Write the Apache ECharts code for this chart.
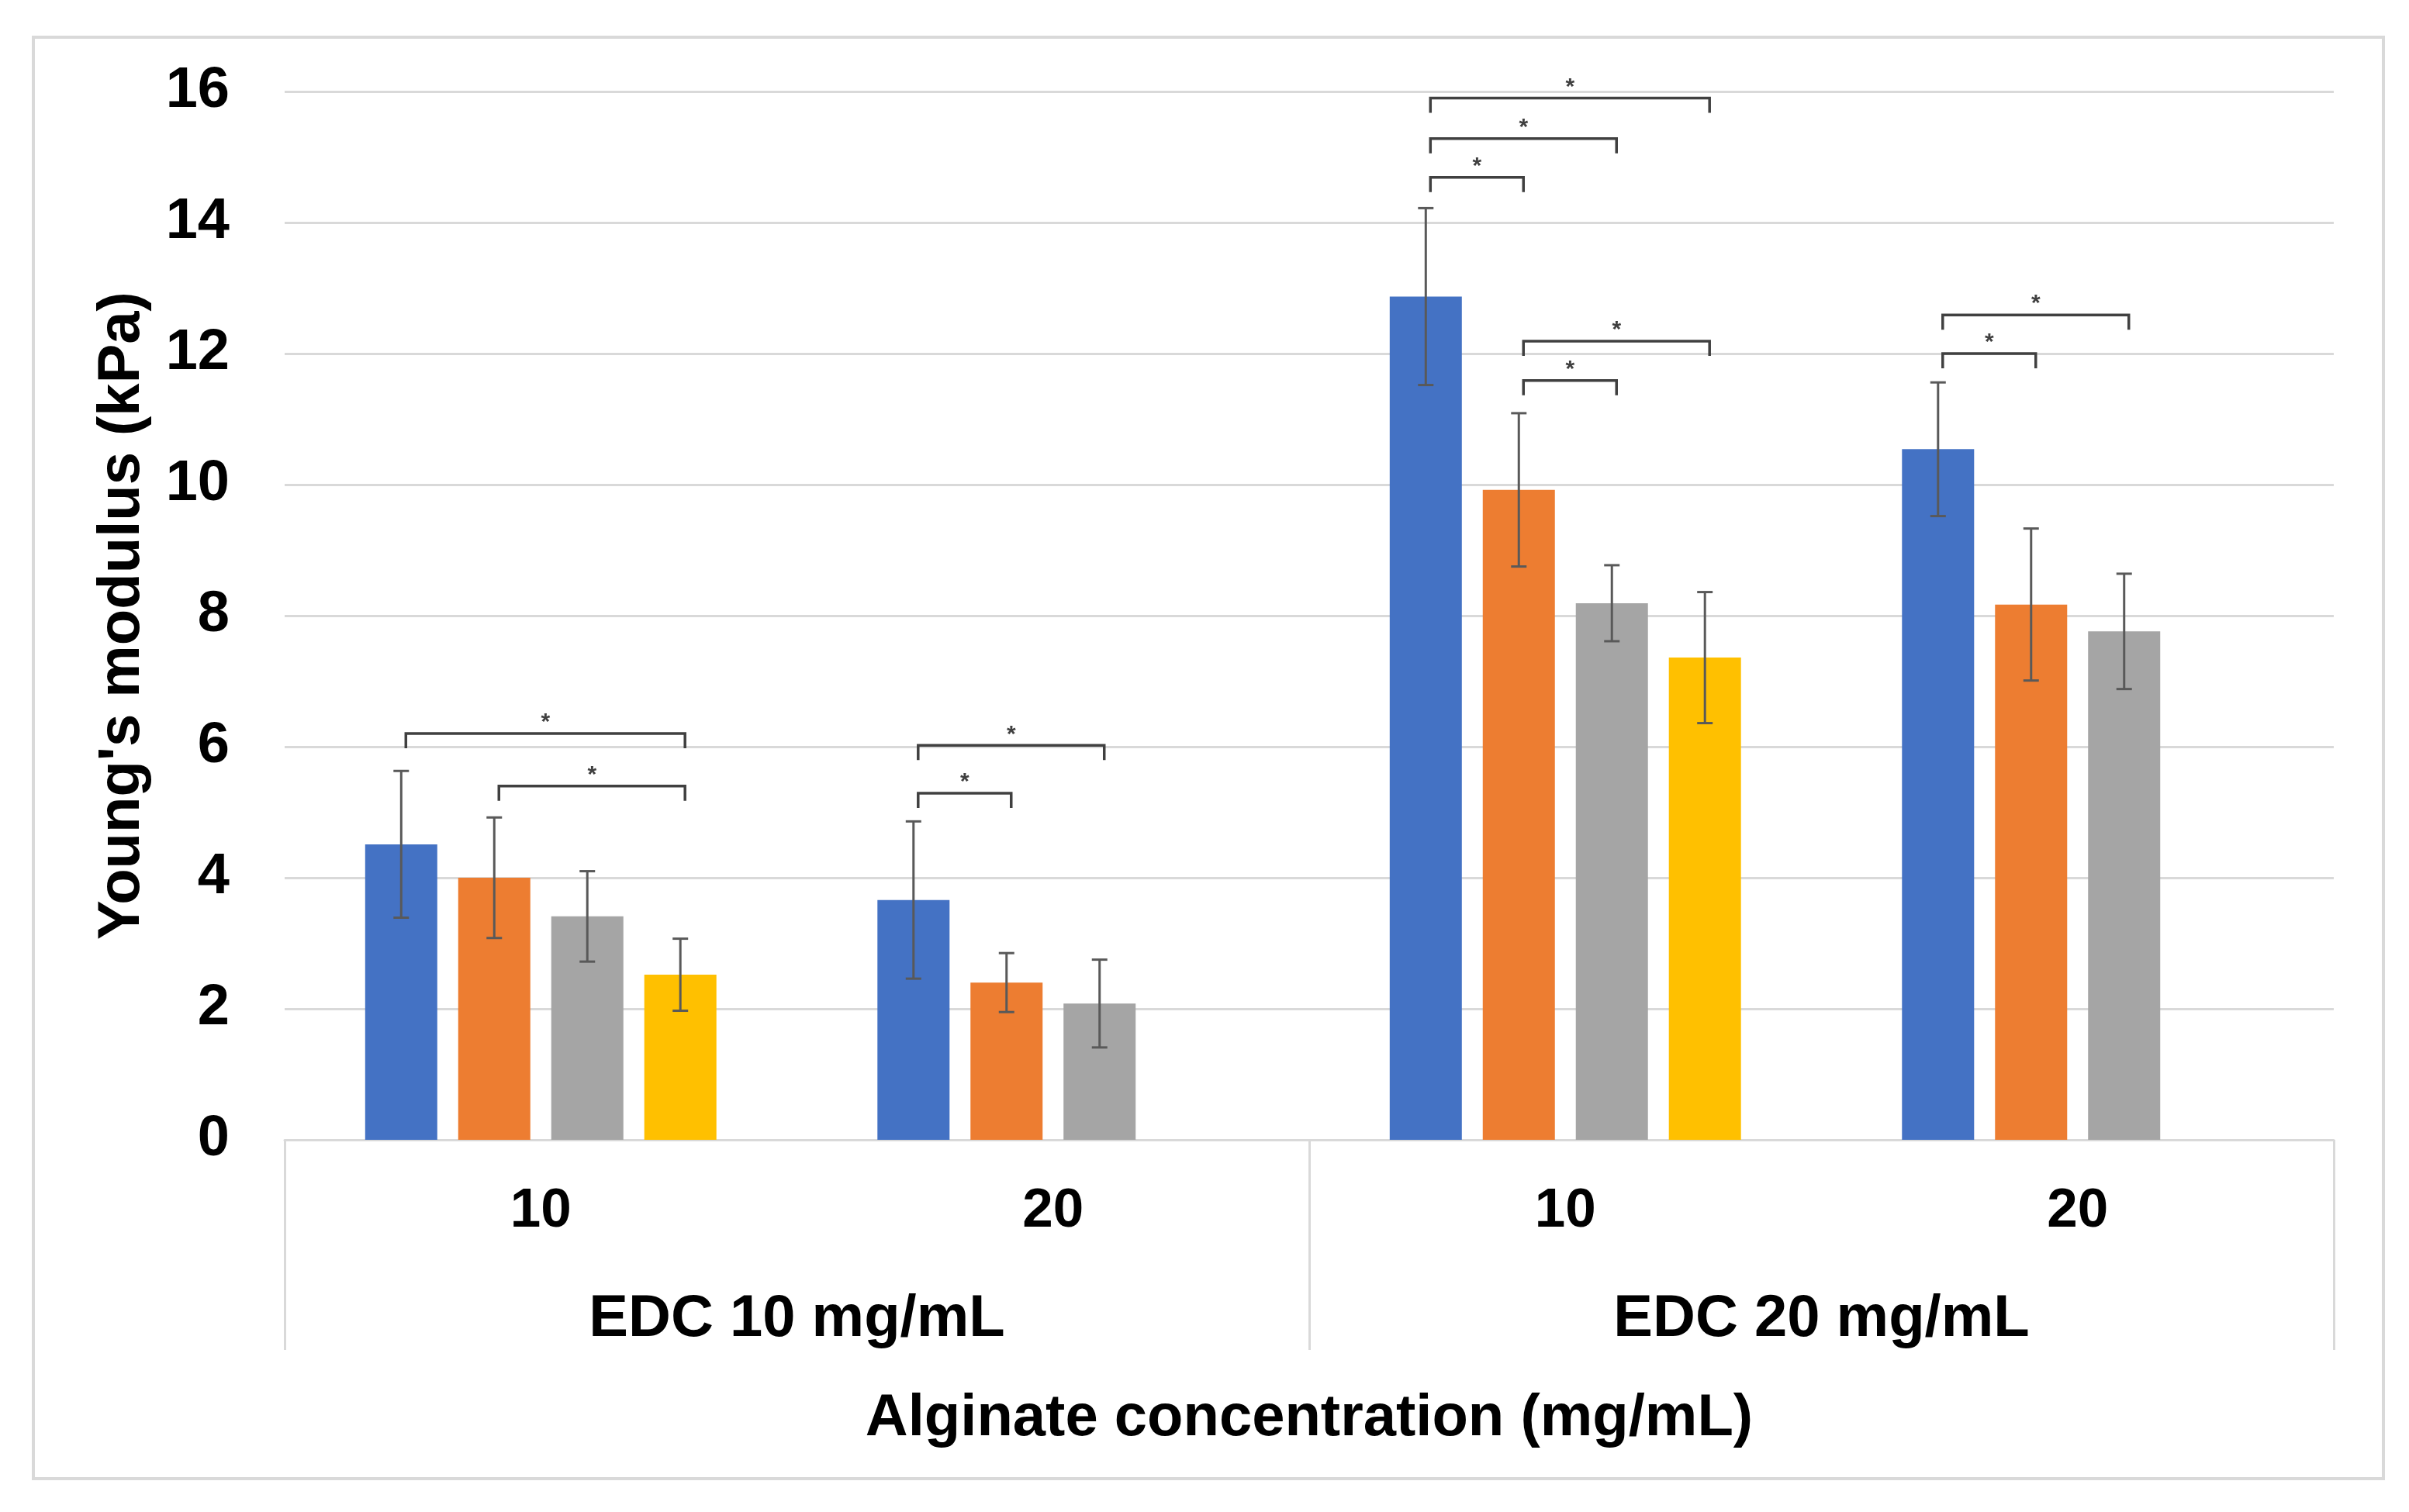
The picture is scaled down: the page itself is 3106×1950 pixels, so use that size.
<!DOCTYPE html>
<html>
<head>
<meta charset="utf-8">
<script src="https://cdn.jsdelivr.net/npm/echarts@6/dist/echarts.min.js"></script>
<style>
html,body{margin:0;padding:0;background:#fff;}
#chart{width:3106px;height:1950px;}
</style>
</head>
<body>
<div id="chart"></div>
<script>
// ---- data ----
const alginateLabels = ['10', '20', '10', '20'];
const edcLabels = ['EDC 10 mg/mL', 'EDC 20 mg/mL'];
const yTicks = [0, 2, 4, 6, 8, 10, 12, 14, 16];

const blueMean   = [4.51, 3.66, 12.87, 10.54];
const blueErr    = [1.12, 1.20, 1.35, 1.02];
const orangeMean = [4.00, 2.40, 9.92, 8.17];
const orangeErr  = [0.92, 0.45, 1.17, 1.16];
const grayMean   = [3.41, 2.08, 8.19, 7.76];
const grayErr    = [0.69, 0.67, 0.58, 0.88];
const yellowMean = [2.52, null, 7.36, null];
const yellowErr  = [0.55, null, 1.00, null];

// significance brackets: [category index, from bar slot, to bar slot, bracket level (kPa)]
const brackets = [
  [0, 0, 3, 6.20], [0, 1, 3, 5.40],
  [1, 0, 2, 6.02], [1, 0, 1, 5.29],
  [2, 0, 3, 15.90], [2, 0, 2, 15.28], [2, 0, 1, 14.69], [2, 1, 3, 12.19], [2, 1, 2, 11.59],
  [3, 0, 2, 12.59], [3, 0, 1, 12.00]
];

// ---- style constants ----
const COLORS = ['#4472C4', '#ED7D31', '#A5A5A5', '#FFC000'];
const FONT = "'Liberation Sans', Arial, sans-serif";
const BAR_W = 93;
const BAR_GAP = 0.29;
const PITCH = BAR_W * (1 + BAR_GAP);
const NS = 4;

const means = [blueMean, orangeMean, grayMean, yellowMean];
const errs = [blueErr, orangeErr, grayErr, yellowErr];

const errData = [];
means.forEach((arr, s) => {
  arr.forEach((v, i) => {
    if (v != null) errData.push([i, s, v - errs[s][i], v + errs[s][i]]);
  });
});

function slotX(api, cat, slot, val) {
  const c = api.coord([cat, val]);
  return [c[0] + (slot - (NS - 1) / 2) * PITCH, c[1]];
}

const chart = echarts.init(document.getElementById('chart'), null, {renderer: 'canvas'});

const option = {
  backgroundColor: '#fff',
  animation: false,
  textStyle: {fontFamily: FONT},
  graphic: [{
    type: 'rect', z: -10,
    shape: {x: 43, y: 48, width: 3030, height: 1859},
    style: {fill: null, stroke: '#d9d9d9', lineWidth: 4}
  }],
  grid: {left: 367, right: 97, top: 118, bottom: 480, containLabel: false},
  xAxis: [{
    type: 'category',
    data: alginateLabels,
    position: 'bottom',
    axisLine: {show: true, lineStyle: {color: '#d9d9d9', width: 3}},
    axisTick: {show: false},
    axisLabel: {color: '#000', fontSize: 71, fontWeight: 'bold', fontFamily: FONT, margin: 57, lineHeight: 71},
    name: 'Alginate concentration (mg/mL)',
    nameLocation: 'middle',
    nameGap: 322,
    nameTextStyle: {color: '#000', fontSize: 76, fontWeight: 'bold', fontFamily: FONT, lineHeight: 76}
  }, {
    type: 'category',
    data: edcLabels,
    position: 'bottom',
    offset: 0,
    axisLine: {show: false},
    axisTick: {show: true, length: 271, lineStyle: {color: '#d9d9d9', width: 3}},
    axisLabel: {color: '#000', fontSize: 76, fontWeight: 'bold', fontFamily: FONT, margin: 194, lineHeight: 76, interval: 0},
    splitLine: {show: false}
  }],
  yAxis: {
    type: 'value',
    min: yTicks[0], max: yTicks[yTicks.length - 1], interval: yTicks[1] - yTicks[0],
    axisLine: {show: false},
    axisTick: {show: false},
    splitLine: {show: true, lineStyle: {color: '#d9d9d9', width: 3}},
    axisLabel: {color: '#000', fontSize: 74, fontWeight: 'bold', fontFamily: FONT, margin: 71},
    name: "Young's modulus (kPa)",
    nameLocation: 'middle',
    nameGap: 171,
    nameTextStyle: {color: '#000', fontSize: 76, fontWeight: 'bold', fontFamily: FONT, lineHeight: 76}
  },
  series: [
    ...means.map((arr, s) => ({
      type: 'bar',
      xAxisIndex: 0,
      data: arr,
      barWidth: BAR_W,
      barGap: (BAR_GAP * 100) + '%',
      itemStyle: {color: COLORS[s]},
      z: 2
    })),
    {
      type: 'custom',
      xAxisIndex: 0,
      z: 5,
      data: errData,
      encode: {x: 0, y: [2, 3]},
      renderItem: function (params, api) {
        const cat = api.value(0), slot = api.value(1);
        const lo = slotX(api, cat, slot, api.value(2));
        const hi = slotX(api, cat, slot, api.value(3));
        const x = lo[0];
        const st = {stroke: '#595959', lineWidth: 3};
        return {
          type: 'group',
          children: [
            {type: 'line', shape: {x1: x, y1: lo[1], x2: x, y2: hi[1]}, style: st},
            {type: 'line', shape: {x1: x - 10, y1: lo[1], x2: x + 10, y2: lo[1]}, style: st},
            {type: 'line', shape: {x1: x - 10, y1: hi[1], x2: x + 10, y2: hi[1]}, style: st}
          ]
        };
      }
    },
    {
      type: 'custom',
      xAxisIndex: 0,
      z: 6,
      data: brackets,
      encode: {x: 0, y: 3},
      renderItem: function (params, api) {
        const cat = api.value(0), a = api.value(1), b = api.value(2), lvl = api.value(3);
        const p1 = slotX(api, cat, a, lvl);
        const p2 = slotX(api, cat, b, lvl);
        const x1 = p1[0] + 6, x2 = p2[0] + 6, y = p1[1];
        const st = {stroke: '#404040', lineWidth: 3.5, fill: null};
        return {
          type: 'group',
          children: [
            {type: 'polyline', shape: {points: [[x1, y + 19], [x1, y], [x2, y], [x2, y + 19]]}, style: st},
            {type: 'text', style: {text: '*', x: (x1 + x2) / 2, y: y - 14, align: 'center', verticalAlign: 'middle',
              fontSize: 30, fontWeight: 'bold', fontFamily: FONT, fill: '#404040'}}
          ]
        };
      }
    }
  ]
};
chart.setOption(option);
</script>
</body>
</html>
